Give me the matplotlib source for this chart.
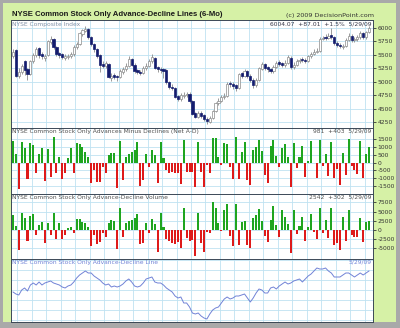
import matplotlib
matplotlib.use("Agg")
import matplotlib.pyplot as plt
from matplotlib.patches import Rectangle
import numpy as np

plt.rcParams["font.family"] = ["DejaVu Sans"]
plt.rcParams["axes.unicode_minus"] = False

# NYSE Composite, daily OHLC (11/28/08 .. 5/29/09)
opens = [5480, 5590, 5100, 5180, 5380, 5230, 5150, 5380, 5500, 5620,
         5510, 5440, 5490, 5740, 5790, 5640, 5530, 5510, 5440, 5460,
         5470, 5510, 5640, 5700, 5890, 5950, 5990, 5830, 5700, 5600,
         5490, 5330, 5290, 5330, 5070, 5120, 5110, 5080, 5190, 5230,
         5300, 5430, 5320, 5210, 5190, 5170, 5250, 5300, 5380, 5440,
         5270, 5240, 5230, 5210, 5000, 4910, 4880, 4730, 4680, 4740,
         4750, 4780, 4640, 4410, 4350, 4420, 4380, 4310, 4250, 4330,
         4450, 4600, 4650, 4710, 4740, 4970, 4960, 4930, 4880, 5160,
         5100, 5200, 5110, 5040, 4930, 5030, 5240, 5330, 5270, 5230,
         5200, 5280, 5360, 5340, 5310, 5350, 5450, 5270, 5320, 5380,
         5430, 5410, 5390, 5470, 5520, 5560, 5580, 5800, 5840, 5810,
         5870, 5840, 5730, 5690, 5640, 5660, 5780, 5860, 5770, 5790,
         5830, 5900, 5830, 5920]
highs = [5600, 5610, 5250, 5330, 5400, 5260, 5400, 5540, 5640, 5650,
         5560, 5520, 5780, 5850, 5810, 5660, 5560, 5540, 5510, 5520,
         5560, 5680, 5740, 5920, 5990, 6030, 6000, 5850, 5720, 5620,
         5510, 5380, 5380, 5350, 5160, 5160, 5130, 5230, 5270, 5340,
         5480, 5450, 5340, 5240, 5220, 5290, 5340, 5420, 5510, 5460,
         5300, 5270, 5260, 5230, 5020, 4950, 4900, 4760, 4790, 4800,
         4810, 4800, 4660, 4440, 4460, 4450, 4400, 4340, 4370, 4480,
         4620, 4690, 4760, 4790, 4990, 5010, 4990, 4960, 5170, 5190,
         5240, 5220, 5140, 5060, 5070, 5270, 5370, 5350, 5300, 5260,
         5320, 5390, 5400, 5370, 5400, 5500, 5470, 5360, 5420, 5440,
         5460, 5440, 5500, 5560, 5600, 5620, 5830, 5860, 5880, 5900,
         6000, 5860, 5750, 5720, 5700, 5810, 5900, 5880, 5830, 5870,
         5940, 5920, 5950, 6030]
lows = [5440, 5080, 5070, 5150, 5120, 5030, 5120, 5350, 5460, 5450,
        5420, 5380, 5470, 5700, 5600, 5480, 5440, 5420, 5400, 5430,
        5440, 5480, 5600, 5680, 5850, 5920, 5800, 5670, 5560, 5440,
        5180, 5250, 5250, 5060, 5020, 5050, 5020, 5060, 5150, 5200,
        5280, 5290, 5160, 5140, 5130, 5150, 5220, 5270, 5350, 5230,
        5190, 5170, 5060, 4960, 4870, 4840, 4690, 4640, 4650, 4700,
        4720, 4610, 4380, 4320, 4330, 4330, 4270, 4220, 4230, 4300,
        4430, 4570, 4620, 4680, 4720, 4900, 4870, 4820, 4860, 5060,
        5080, 5070, 4990, 4880, 4900, 5010, 5210, 5220, 5190, 5160,
        5170, 5250, 5290, 5270, 5280, 5330, 5240, 5240, 5290, 5350,
        5360, 5350, 5370, 5440, 5490, 5530, 5560, 5770, 5780, 5790,
        5800, 5690, 5640, 5620, 5610, 5640, 5750, 5740, 5740, 5760,
        5800, 5790, 5800, 5900]
closes = [5550, 5100, 5180, 5290, 5220, 5150, 5380, 5500, 5600, 5500,
          5470, 5480, 5750, 5800, 5640, 5520, 5500, 5460, 5470, 5480,
          5510, 5650, 5700, 5900, 5960, 5980, 5830, 5700, 5600, 5480,
          5320, 5300, 5340, 5080, 5100, 5090, 5080, 5200, 5230, 5300,
          5430, 5320, 5200, 5180, 5170, 5250, 5300, 5380, 5460, 5260,
          5230, 5220, 5200, 4990, 4900, 4880, 4720, 4680, 4750, 4760,
          4770, 4640, 4400, 4350, 4420, 4360, 4300, 4260, 4330, 4450,
          4600, 4650, 4720, 4740, 4960, 4950, 4920, 4880, 5150, 5100,
          5200, 5110, 5040, 4930, 5030, 5250, 5330, 5260, 5230, 5200,
          5280, 5350, 5330, 5310, 5350, 5460, 5270, 5320, 5380, 5400,
          5400, 5390, 5470, 5520, 5560, 5580, 5800, 5820, 5810, 5850,
          5830, 5720, 5680, 5660, 5660, 5780, 5860, 5780, 5790, 5830,
          5900, 5830, 5917.06, 6004.07]

# advances minus declines (issues)
net_ad = [1408, 555, -1707, 1344, 917, -1067, 1237, 1130, -683, 555,
          917, -1173, 853, -896, 1621, -683, 384, -1024, -683, 277,
          917, -640, 1280, 1195, 1024, 704, 384, -1323, -469, -1259,
          -1216, -256, -683, 491, 640, 640, -1643, 1408, -1109, 384,
          555, 683, 811, 1344, -1472, -1109, 555, -256, 811, 491,
          -1323, 1344, 277, -469, -640, -619, -640, -683, -1387, 1451,
          -576, -576, -619, -1579, 1344, -576, -1536, -150, -683, 1557,
          1557, 341, -150, 1280, 1195, -256, -1067, 1621, -1067, 704,
          1344, -1109, -1429, 811, 981, 1451, 768, -789, -1280, 1067,
          1451, 427, -256, 917, 1195, 384, -1579, 1280, -363, 341,
          1067, -896, 128, 1408, -43, -1003, 1451, -213, 555, -853,
          1344, -1003, -427, -1429, 640, -789, 1493, -213, -469, -747,
          1408, -1003, 578, 981]

# advancing minus declining volume
net_ad_vol = [4200, 1100, -5560, 4600, 3300, -2870, 3900, 4400, -1345, 1300,
              2200, -3590, 1900, -1345, 4700, -2510, 1800, -2420, -1345, 500,
              900, -900, 3100, 2900, 2300, 1800, 900, -4300, -1345, -3770,
              -3400, -700, -1800, 1800, 2700, 2400, -5200, 6100, -1800, 2000,
              2400, 2700, 3200, 4400, -3770, -3600, 1800, -900, 2900, 1500,
              -6000, 4600, 900, -2500, -3100, -3600, -3800, -3400, -4930, 6100,
              -2200, -3100, -2700, -7000, 4600, -3600, -6100, -500, -900, 7600,
              6100, 1800, -300, 5380, 7170, -1615, -4300, 7000, -4040, 2240,
              2510, -4040, -4930, 3320, 4040, 5830, 2510, -1615, -3140, 2690,
              6460, 1345, -1970, 5380, 3590, 1600, -6280, 5380, -1076, 1100,
              3590, -2870, 700, 4485, -600, -2400, 6100, -800, 2690, -2240,
              6100, -4040, -3600, -5560, 3590, -2870, 5380, -1500, -1800, -2000,
              3140, -3140, 2240, 2542]

# cumulative advance-decline line
ad_line = [5600, 5200, 5000, 6000, 6400, 5800, 7000, 7400, 7000, 7600,
           7000, 7400, 7600, 7800, 7400, 7200, 7000, 6600, 6400, 6800,
           7000, 7600, 8400, 9000, 9400, 9800, 9400, 9400, 8800, 8400,
           8000, 7400, 7000, 7200, 6600, 6800, 6600, 6800, 7200, 7800,
           8200, 7600, 6800, 6600, 6800, 7400, 8200, 8400, 8600, 7600,
           7400, 7400, 7000, 6400, 6000, 5600, 4800, 4400, 4600, 3400,
           3400, 2600, 1400, 1200, 1400, 800, 400, 200, 1200, 2000,
           2400, 2600, 3400, 4200, 4600, 4200, 4400, 4800, 4800, 5000,
           5200, 4400, 3600, 4400, 5400, 6200, 6000, 5400, 5400, 6400,
           6600, 6200, 6800, 7200, 7600, 7200, 7400, 7800, 8000, 8200,
           7600, 8200, 8800, 9200, 9800, 10400, 10200, 10200, 10400, 9800,
           9400, 8600, 8600, 8600, 9000, 9400, 9400, 9000, 8600, 9000,
           9400, 9000, 9400, 9800]

last_date = "5/29/09"
price_ticks = [4250, 4500, 4750, 5000, 5250, 5500, 5750, 6000]
ad_ticks = [-1500, -1000, -500, 0, 500, 1000, 1500]
vol_ticks = [-5000, -2500, 0, 2500, 5000, 7500]

BG = "#d6f1a6"
GRID = "#bfe2f1"
FRAME = "#3b4856"
NAVY = "#141c6e"
GREEN = "#1fa51f"
RED = "#de1a1a"
LINE = "#7182d6"

W_PX, H_PX = 400, 328
fig = plt.figure(figsize=(W_PX / 100, H_PX / 100), dpi=100)
fig.patch.set_facecolor("#a9a9a9")
fig.add_artist(Rectangle((3 / W_PX, 6 / H_PX), 393 / W_PX, 319 / H_PX,
                         transform=fig.transFigure, facecolor=BG,
                         edgecolor="none", zorder=0))


def panel(top, bottom):
    return fig.add_axes([11 / W_PX, (H_PX - bottom) / H_PX,
                         362 / W_PX, (bottom - top) / H_PX])


ax1 = panel(20, 128)
ax2 = panel(128, 194)
ax3 = panel(194, 259)
ax4 = panel(259, 322)

n = len(closes)
x = np.arange(n)

for ax in (ax1, ax2, ax3, ax4):
    ax.set_facecolor("white")
    ax.set_xlim(-0.7, n + 0.4)
    ax.set_xticks(np.arange(1.5, n, 5))
    ax.tick_params(axis="x", length=0, labelbottom=False)
    ax.yaxis.tick_right()
    ax.tick_params(axis="y", length=2, width=0.6, pad=1.2,
                   labelsize=4.3, colors="#333333")
    ax.grid(True, color=GRID, lw=0.6)
    ax.set_axisbelow(True)
    for s in ax.spines.values():
        s.set_color(FRAME)
        s.set_linewidth(0.7)

# candlesticks
o = np.array(opens, dtype=float)
c = np.array(closes, dtype=float)
up = c >= o
ax1.vlines(x, lows, highs, color="#8a8a8a", lw=0.6, zorder=2)
ax1.bar(x[up], (c - o)[up], bottom=o[up], width=0.75, color="white",
        edgecolor="#8a8a8a", lw=0.5, zorder=3)
ax1.bar(x[~up], (o - c)[~up], bottom=c[~up], width=0.75, color=NAVY,
        edgecolor=NAVY, lw=0.5, zorder=3)
ax1.set_ylim(4138, 6149)
ax1.set_yticks(price_ticks)

# net advances
ad = np.array(net_ad)
ax2.bar(x, ad, width=0.7, color=np.where(ad >= 0, GREEN, RED), lw=0, zorder=3)
ax2.set_ylim(-2014, 2226)
ax2.set_yticks(ad_ticks)

# net volume
vol = np.array(net_ad_vol)
ax3.bar(x, vol, width=0.7, color=np.where(vol >= 0, GREEN, RED), lw=0, zorder=3)
ax3.set_ylim(-7900, 9800)
ax3.set_yticks(vol_ticks)

# A-D line
ax4.plot(x, ad_line, color=LINE, lw=0.7, zorder=3)
ax4.set_ylim(-400, 12200)
ax4.set_yticks(np.arange(0, 12001, 2000))
ax4.tick_params(axis="y", length=0, labelright=False)

# panel captions
fs = 4.3
chg = closes[-1] - closes[-2]
captions = [
    (ax1, "NYSE Composite Index", "#8090a6",
     f"{closes[-1]:.2f}  {chg:+.2f}  {chg / closes[-2] * 100:+.1f}%  {last_date}", "#333344"),
    (ax2, "NYSE Common Stock Only Advances Minus Declines (Net A-D)", "#505050",
     f"{net_ad[-1]}  {net_ad[-1] - net_ad[-2]:+d}  {last_date}", "#505050"),
    (ax3, "NYSE Common Stock Only Advance-Decline Volume", "#505050",
     f"{net_ad_vol[-1]}  {net_ad_vol[-1] - net_ad_vol[-2]:+d}  {last_date}", "#505050"),
    (ax4, "NYSE Common Stock Only Advance-Decline Line", LINE,
     last_date, LINE),
]
for ax, left, lc, right, rc in captions:
    ax.text(0.004, 0.985, left, transform=ax.transAxes, ha="left", va="top",
            fontsize=fs, color=lc, zorder=5)
    ax.text(0.995, 0.985, right, transform=ax.transAxes, ha="right", va="top",
            fontsize=fs, color=rc, zorder=5)

fig.text(12 / W_PX, 1 - 15 / H_PX,
         "NYSE Common Stock Only Advance-Decline Lines (6-Mo)",
         family=["Liberation Sans", "DejaVu Sans"], fontweight="bold",
         fontsize=5.6, color="#1a1a1a", ha="left", va="center")
fig.text(374 / W_PX, 1 - 15 / H_PX, "(c) 2009 DecisionPoint.com",
         fontsize=4.6, color="#333333", ha="right", va="center")

fig.savefig("out.png", dpi=100, facecolor=fig.get_facecolor())
